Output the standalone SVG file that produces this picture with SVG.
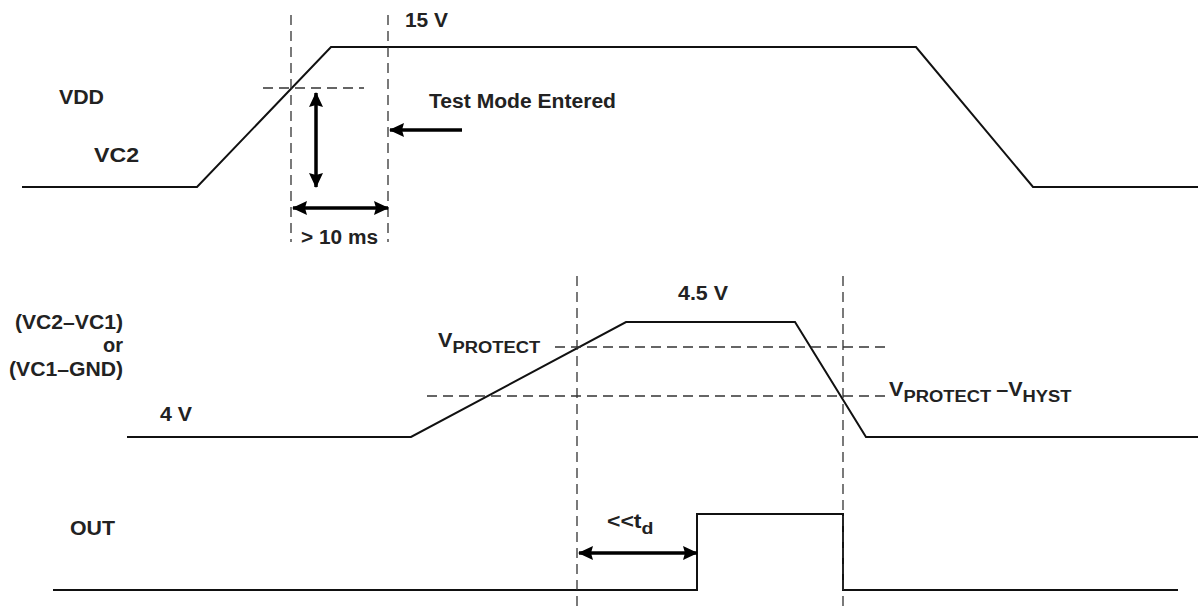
<svg xmlns="http://www.w3.org/2000/svg" width="1198" height="608" viewBox="0 0 1198 608">
<style>
text{font-family:"Liberation Sans",Arial,sans-serif;font-weight:bold;font-size:20px;fill:#222}
.sub{font-size:17px}
.w{fill:none;stroke:#111;stroke-width:2}
.d{fill:none;stroke:#333;stroke-width:1.3;stroke-dasharray:10 6}
.a{fill:none;stroke:#000;stroke-width:3.5}
</style>
<defs>
<marker id="ah" viewBox="0 0 15 14" refX="14" refY="7" markerWidth="4.3" markerHeight="4" markerUnits="strokeWidth" orient="auto-start-reverse">
<path d="M0,0 L15,7 L0,14 L2,7 Z" fill="#000"/>
</marker>
</defs>
<g id="waveforms">
<polyline id="vc2-wave" class="w" points="22,187 197,187 331,47 916,47 1033,187 1198,187"/>
<polyline id="vprot-wave" class="w" points="127,437 411,437 626,322 795,322 866,437 1198,437"/>
<polyline id="out-wave" class="w" points="53,590 697,590 697,514 843,514 843,590 1178,590"/>
</g>
<g id="dashes">
<line class="d" x1="291" y1="15" x2="291" y2="242"/>
<line class="d" x1="388" y1="15" x2="388" y2="242"/>
<line class="d" x1="263" y1="88" x2="364" y2="88"/>
<line class="d" x1="577" y1="276" x2="577" y2="608"/>
<line class="d" x1="843" y1="276" x2="843" y2="608"/>
<line class="d" x1="555" y1="347" x2="887" y2="347"/>
<line class="d" x1="427" y1="396" x2="885" y2="396"/>
</g>
<g id="connectors">
<line class="a" x1="316" y1="93" x2="316" y2="187" marker-start="url(#ah)" marker-end="url(#ah)"/>
<line class="a" x1="293" y1="208" x2="388" y2="208" marker-start="url(#ah)" marker-end="url(#ah)"/>
<line class="a" x1="462" y1="130" x2="390" y2="130" marker-end="url(#ah)"/>
<line class="a" x1="579" y1="553" x2="697" y2="553" marker-start="url(#ah)" marker-end="url(#ah)"/>
</g>
<g id="labels">
<text id="t15v" x="405" y="27" textLength="43" lengthAdjust="spacingAndGlyphs">15 V</text>
<text id="tvdd" x="59" y="104" textLength="45" lengthAdjust="spacingAndGlyphs">VDD</text>
<text id="tvc2" x="94" y="162" textLength="45" lengthAdjust="spacingAndGlyphs">VC2</text>
<text id="ttest" x="429" y="108" textLength="187" lengthAdjust="spacingAndGlyphs">Test Mode Entered</text>
<text id="t10ms" x="301" y="244" textLength="77" lengthAdjust="spacingAndGlyphs">&gt; 10 ms</text>
<text id="t45v" x="678" y="300" textLength="50" lengthAdjust="spacingAndGlyphs">4.5 V</text>
<text id="tvprot" transform="translate(438,347) scale(1.08,1)">V<tspan class="sub" dy="6">PROTECT</tspan></text>
<text id="tdiff1" x="15" y="329" textLength="108" lengthAdjust="spacingAndGlyphs">(VC2–VC1)</text>
<text id="tor" x="103" y="352" textLength="20" lengthAdjust="spacingAndGlyphs">or</text>
<text id="tdiff2" x="9" y="376" textLength="114" lengthAdjust="spacingAndGlyphs">(VC1–GND)</text>
<text id="t4v" x="160" y="421" textLength="32" lengthAdjust="spacingAndGlyphs">4 V</text>
<text id="thyst" transform="translate(889,396) scale(1.08,1)">V<tspan class="sub" dy="6">PROTECT </tspan><tspan dy="-6">–V</tspan><tspan class="sub" dy="6">HYST</tspan></text>
<text id="tout" x="70" y="535" textLength="45" lengthAdjust="spacingAndGlyphs">OUT</text>
<text id="ttd" transform="translate(607,528) scale(1.15,1)">&lt;&lt;t<tspan class="sub" dy="6">d</tspan></text>
</g>
</svg>
